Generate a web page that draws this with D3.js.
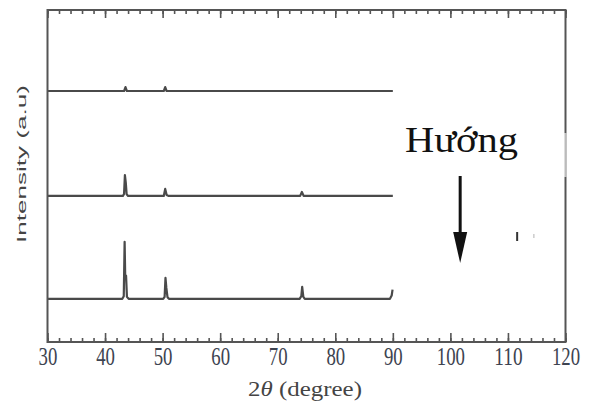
<!DOCTYPE html>
<html>
<head>
<meta charset="utf-8">
<script src="https://cdn.jsdelivr.net/npm/d3@7"></script>
<style>
  body { margin: 0; background: #fff; }
</style>
</head>
<body>
<svg id="chart" width="592" height="410"></svg>
<script>
// x ticks (2θ, degree)
const majorTicks = [30, 40, 50, 60, 70, 80, 90, 100, 110, 120];
const minorTicks = d3.range(30, 121, 2);

// vertical offsets of the three patterns (a.u.)
const offsets = [130, 440, 756];

// XRD patterns: [2θ, intensity a.u.]
const sampleBottom = [
  [30, 0], [43.0, 0], [43.25, 8], [43.4, 172], [43.5, 70], [43.65, 70],
  [43.8, 6], [44.1, 0], [50.1, 0], [50.35, 6], [50.5, 63], [50.65, 33],
  [50.85, 5], [51.1, 0], [73.8, 0], [74.1, 8], [74.25, 36], [74.45, 6],
  [74.7, 0], [89.5, 0], [89.8, 10], [89.95, 28]
];
const sampleMiddle = [
  [30, 0], [43.1, 0], [43.3, 6], [43.45, 63], [43.6, 40], [43.75, 5],
  [44.0, 0], [50.2, 0], [50.45, 21], [50.7, 3], [51.0, 0], [73.9, 0],
  [74.2, 12], [74.5, 0], [90, 0]
];
const sampleTop = [
  [30, 0], [43.3, 0], [43.55, 12], [43.8, 0], [50.2, 0], [50.45, 12],
  [50.7, 0], [90, 0]
];
const patterns = [sampleBottom, sampleMiddle, sampleTop];

const svg = d3.select("#chart");
const margin = { left: 47.5, right: 26.5, top: 10, bottom: 68 };
const width = 592, height = 410;
const serif = "'Liberation Serif', 'Times New Roman', serif";

const x = d3.scaleLinear().domain([30, 120])
  .range([margin.left, width - margin.right]);
const y = d3.scaleLinear().domain([0, 1000])
  .range([height - margin.bottom, margin.top]);

const axisColor = "#555";

// stretch a text horizontally so it is w pixels wide
function fit(sel, w, before) {
  sel.each(function (d) {
    const len = this.getComputedTextLength();
    const target = typeof w === "function" ? w(d) : w;
    d3.select(this).attr("transform", `${before || ""} scale(${target / len},1)`);
  });
}

// minor ticks, bottom and top (inward)
svg.append("g")
  .attr("transform", `translate(0,${y(0)})`)
  .call(d3.axisBottom(x).tickValues(minorTicks).tickSize(-4).tickFormat(""))
  .call(g => g.select(".domain").remove());
svg.append("g")
  .attr("transform", `translate(0,${margin.top})`)
  .call(d3.axisTop(x).tickValues(minorTicks).tickSize(-4).tickFormat(""))
  .call(g => g.select(".domain").remove());

// major ticks with labels
const xAxis = svg.append("g")
  .attr("transform", `translate(0,${y(0)})`)
  .call(d3.axisBottom(x).tickValues(majorTicks).tickSizeInner(-9).tickSizeOuter(0))
  .call(g => g.select(".domain").remove());
svg.append("g")
  .attr("transform", `translate(0,${margin.top})`)
  .call(d3.axisTop(x).tickValues(majorTicks).tickSizeInner(-8).tickSizeOuter(0).tickFormat(""))
  .call(g => g.select(".domain").remove());

svg.selectAll(".tick line")
  .attr("stroke", axisColor)
  .attr("stroke-width", 1.6);

xAxis.selectAll(".tick text")
  .attr("font-family", serif)
  .attr("font-size", 25)
  .attr("fill", "#3d4350")
  .attr("y", 23)
  .attr("dy", 0)
  .call(fit, d => String(d).length * 9.4);

// the patterns
const line = d3.line()
  .x(d => x(d[0]))
  .y(d => y(d[1]));

svg.append("g")
  .selectAll("path")
  .data(patterns)
  .join("path")
  .attr("fill", "none")
  .attr("stroke", "#4a4a4a")
  .attr("stroke-width", 2.2)
  .attr("stroke-linejoin", "round")
  .attr("d", (d, i) => line(d.map(p => [p[0], p[1] + offsets[i]])));

// frame
svg.append("rect")
  .attr("x", x(30))
  .attr("y", y(1000))
  .attr("width", x(120) - x(30))
  .attr("height", y(0) - y(1000))
  .attr("fill", "none")
  .attr("stroke", axisColor)
  .attr("stroke-width", 2);

// white box behind the annotation (it clips the right border a little)
svg.append("rect")
  .attr("x", x(97))
  .attr("y", 133)
  .attr("width", x(120) - x(97) + 1)
  .attr("height", 44)
  .attr("fill", "#fff")
  .attr("opacity", 0.6);

// annotation
svg.append("text")
  .attr("font-family", serif)
  .attr("font-size", 36)
  .attr("fill", "#111")
  .text("Hướng")
  .call(fit, 113, `translate(${x(92.1)},152)`);

const arrowX = x(101.7);
svg.append("line")
  .attr("x1", arrowX).attr("x2", arrowX)
  .attr("y1", 176).attr("y2", 240)
  .attr("stroke", "#111")
  .attr("stroke-width", 3);
svg.append("path")
  .attr("d", `M${arrowX - 7},232 L${arrowX + 7},232 L${arrowX},263 Z`)
  .attr("fill", "#111");

// stray marks in the original
svg.append("line")
  .attr("x1", x(111.6)).attr("x2", x(111.6))
  .attr("y1", 232).attr("y2", 241)
  .attr("stroke", "#333").attr("stroke-width", 2);
svg.append("line")
  .attr("x1", x(114.5)).attr("x2", x(114.5))
  .attr("y1", 234).attr("y2", 238)
  .attr("stroke", "#ccc").attr("stroke-width", 1.5);

// axis titles
svg.append("text")
  .attr("text-anchor", "middle")
  .attr("font-family", "'Liberation Sans', Arial, sans-serif")
  .attr("font-size", 12)
  .attr("fill", "#444")
  .text("Intensity (a.u)")
  .call(fit, 158, "translate(26,164) rotate(-90)");

const xTitle = svg.append("text")
  .attr("text-anchor", "middle")
  .attr("font-family", serif)
  .attr("font-size", 20)
  .attr("fill", "#444");
xTitle.append("tspan").text("2");
xTitle.append("tspan").attr("font-style", "italic").text("θ");
xTitle.append("tspan").text(" (degree)");
xTitle.call(fit, 114, "translate(305,396)");
</script>
</body>
</html>
